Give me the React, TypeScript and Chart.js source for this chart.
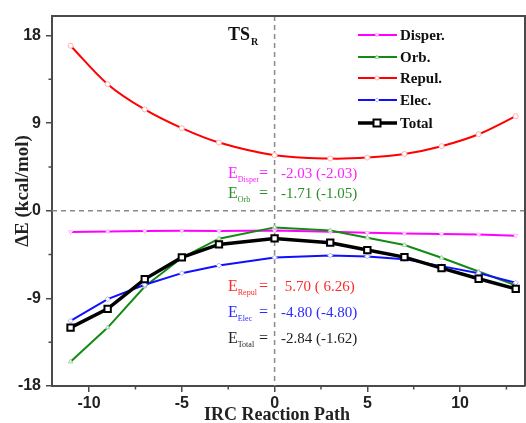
import React, { useEffect, useRef } from "react";
import { Chart, registerables } from "chart.js";

Chart.register(...registerables);

const xValues = [-11, -9, -7, -5, -3, 0, 3, 5, 7, 9, 11, 13];
const disper = [-2.19, -2.12, -2.09, -2.05, -2.09, -2.03, -2.15, -2.26, -2.33, -2.4, -2.43, -2.56];
const orb = [-15.5, -12.0, -7.78, -4.83, -2.87, -1.71, -2.02, -2.77, -3.52, -4.83, -6.24, -7.67];
const repul = [16.95, 13.0, 10.4, 8.48, 7.0, 5.7, 5.36, 5.46, 5.83, 6.63, 7.86, 9.71];
const elec = [-11.3, -9.08, -7.6, -6.41, -5.62, -4.8, -4.59, -4.69, -4.97, -5.69, -6.41, -7.4];
const total = [-12.0, -10.08, -7.02, -4.79, -3.46, -2.84, -3.28, -4.04, -4.76, -5.89, -6.99, -8.02];

const seriesNames = ["Disper.", "Orb.", "Repul.", "Elec.", "Total"];
const seriesColors = ["#ff00ff", "#138a13", "#ff0000", "#1010ff", "#000000"];
const markerEdges = ["#ffb3ff", "#9fd09f", "#ffb0b0", "#b0b0ff", "#000000"];

const annoMain = ["Disper", "Orb", "Repul", "Elec", "Total"];
const annoValues = ["-2.03 (-2.03)", "-1.71 (-1.05)", " 5.70 ( 6.26)", "-4.80 (-4.80)", "-2.84 (-1.62)"];
const annoColors = ["#ff22ff", "#2a8f2a", "#ff2a2a", "#2a2aff", "#222222"];

const yTickValues = [-18, -9, 0, 9, 18];
const yMinorTicks = [-13.5, -4.5, 4.5, 13.5];
const xMinorTicks = [-7.5, -2.5, 2.5, 7.5, 12.5];

const xTitle = "IRC Reaction Path";
const yTitle = "ΔE (kcal/mol)";

const SERIF = "'Liberation Serif', 'Times New Roman', serif";
const SANS = "'Liberation Sans', Arial, sans-serif";

const drawMarker = (ctx: CanvasRenderingContext2D, style: string, x: number, y: number, r: number) => {
  ctx.beginPath();
  if (style === "circle") {
    ctx.arc(x, y, r, 0, Math.PI * 2);
  } else if (style === "triangle") {
    ctx.moveTo(x, y - r);
    ctx.lineTo(x + r, y + r * 0.8);
    ctx.lineTo(x - r, y + r * 0.8);
    ctx.closePath();
  } else if (style === "triangleDown") {
    ctx.moveTo(x, y + r);
    ctx.lineTo(x + r, y - r * 0.8);
    ctx.lineTo(x - r, y - r * 0.8);
    ctx.closePath();
  } else if (style === "rectRot") {
    ctx.moveTo(x, y - r);
    ctx.lineTo(x + r, y);
    ctx.lineTo(x, y + r);
    ctx.lineTo(x - r, y);
    ctx.closePath();
  } else {
    ctx.rect(x - r, y - r, 2 * r, 2 * r);
  }
  ctx.fill();
  ctx.stroke();
};

const markerStyles = ["triangleDown", "triangle", "circle", "rectRot", "rect"];

const decorPlugin = {
  id: "decor",
  beforeDatasetsDraw(chart: any) {
    const { ctx, chartArea, scales } = chart;
    const x0 = scales.x.getPixelForValue(0);
    const y0 = scales.y.getPixelForValue(0);
    ctx.save();
    ctx.strokeStyle = "#8a8a8a";
    ctx.lineWidth = 1.5;
    ctx.setLineDash([5, 4]);
    ctx.beginPath();
    ctx.moveTo(x0, chartArea.top);
    ctx.lineTo(x0, chartArea.bottom);
    ctx.moveTo(chartArea.left, y0);
    ctx.lineTo(chartArea.right, y0);
    ctx.stroke();
    ctx.restore();
  },
  afterDraw(chart: any) {
    const { ctx, chartArea, scales } = chart;
    ctx.save();
    // frame
    ctx.strokeStyle = "#4a4a4a";
    ctx.lineWidth = 2;
    ctx.beginPath();
    ctx.moveTo(chartArea.left, chartArea.top);
    ctx.lineTo(chartArea.right, chartArea.top);
    ctx.lineTo(chartArea.right, chartArea.bottom);
    ctx.stroke();
    // minor ticks
    ctx.lineWidth = 1.5;
    ctx.beginPath();
    yMinorTicks.forEach((v) => {
      const y = scales.y.getPixelForValue(v);
      ctx.moveTo(chartArea.left, y);
      ctx.lineTo(chartArea.left - 3.5, y);
    });
    xMinorTicks.forEach((v) => {
      const x = scales.x.getPixelForValue(v);
      if (x > chartArea.right) return;
      ctx.moveTo(x, chartArea.bottom);
      ctx.lineTo(x, chartArea.bottom + 3.5);
    });
    ctx.stroke();

    // TS_R
    ctx.fillStyle = "#111";
    ctx.textBaseline = "alphabetic";
    ctx.textAlign = "left";
    ctx.font = `bold 18px ${SERIF}`;
    ctx.fillText("TS", 228, 40);
    const tsw = ctx.measureText("TS").width;
    ctx.font = `bold 10px ${SERIF}`;
    ctx.fillText("R", 228 + tsw + 1, 45);

    // annotations
    const annoY = [178, 198, 291, 317, 343];
    annoMain.forEach((sub, i) => {
      ctx.fillStyle = annoColors[i];
      ctx.font = `16px ${SERIF}`;
      ctx.fillText("E", 228, annoY[i]);
      const ew = ctx.measureText("E").width;
      ctx.font = `8px ${SERIF}`;
      ctx.fillText(sub, 228 + ew, annoY[i] + 4);
      ctx.font = `16px ${SERIF}`;
      ctx.fillText("=", 259, annoY[i]);
      ctx.font = `15px ${SERIF}`;
      ctx.fillText(annoValues[i], 281, annoY[i]);
    });

    // legend
    const legY = [35, 57, 78, 100, 123];
    seriesNames.forEach((name, i) => {
      const isTotal = i === 4;
      ctx.strokeStyle = seriesColors[i];
      ctx.lineWidth = isTotal ? 3.5 : 2;
      ctx.beginPath();
      ctx.moveTo(358, legY[i]);
      ctx.lineTo(397, legY[i]);
      ctx.stroke();
      ctx.fillStyle = "#ffffff";
      ctx.lineWidth = isTotal ? 2 : 1;
      ctx.strokeStyle = markerEdges[i];
      drawMarker(ctx, markerStyles[i], 377, legY[i], isTotal ? 3.5 : 2);
      ctx.fillStyle = "#111";
      ctx.font = `bold 15px ${SERIF}`;
      ctx.fillText(name, 400, legY[i] + 5);
    });

    // axis titles
    ctx.fillStyle = "#222";
    ctx.font = `bold 18px ${SERIF}`;
    ctx.textAlign = "center";
    ctx.fillText(xTitle, 277, 420);
    ctx.save();
    ctx.translate(28, 191);
    ctx.rotate(-Math.PI / 2);
    ctx.font = `bold 19px ${SERIF}`;
    ctx.fillText(yTitle, 0, 0);
    ctx.restore();

    ctx.restore();
  },
};

export default function App() {
  const canvasRef = useRef<HTMLCanvasElement | null>(null);

  useEffect(() => {
    if (!canvasRef.current) return;
    const all = [disper, orb, repul, elec, total];
    const datasets = all.map((vals, i) => {
      const isTotal = i === 4;
      return {
        label: seriesNames[i],
        data: xValues.map((x, j) => ({ x, y: vals[j] })),
        borderColor: seriesColors[i],
        backgroundColor: "#ffffff",
        borderWidth: isTotal ? 3.5 : 2,
        pointStyle: isTotal ? "rect" : i === 2 ? "circle" : i === 3 ? "rectRot" : "triangle",
        pointRotation: i === 0 ? 180 : 0,
        pointRadius: isTotal ? 4.5 : 2.5,
        pointBorderWidth: isTotal ? 2 : 1,
        pointBorderColor: markerEdges[i],
        pointBackgroundColor: "#ffffff",
        tension: i === 2 ? 0.35 : 0,
        order: 4 - i,
      };
    });

    const chart = new Chart(canvasRef.current, {
      type: "line",
      data: { datasets: datasets as any },
      options: {
        animation: false,
        responsive: false,
        devicePixelRatio: 1,
        layout: { autoPadding: false, padding: { top: 16, right: 1, left: 0, bottom: 0 } },
        plugins: {
          legend: { display: false },
          tooltip: { enabled: false },
        },
        scales: {
          x: {
            type: "linear",
            min: -12,
            max: 13.5,
            afterFit: (s: any) => {
              s.height = 37;
              s.paddingLeft = 0;
              s.paddingRight = 0;
            },
            ticks: {
              stepSize: 5,
              includeBounds: false,
              padding: 2,
              color: "#222",
              font: { family: SANS, size: 16, weight: "bold" },
            },
            grid: { drawOnChartArea: false, drawTicks: true, tickLength: 6, color: "#4a4a4a", lineWidth: 1.5 },
            border: { display: true, color: "#4a4a4a", width: 2 },
          },
          y: {
            type: "linear",
            min: -18,
            max: 20,
            afterFit: (s: any) => {
              s.width = 52;
              s.paddingTop = 0;
              s.paddingBottom = 0;
            },
            afterBuildTicks: (s: any) => {
              s.ticks = yTickValues.map((v) => ({ value: v }));
            },
            ticks: {
              padding: 5,
              color: "#222",
              font: { family: SANS, size: 16, weight: "bold" },
            },
            grid: { drawOnChartArea: false, drawTicks: true, tickLength: 6, color: "#4a4a4a", lineWidth: 1.5 },
            border: { display: true, color: "#4a4a4a", width: 2 },
          },
        },
      },
      plugins: [decorPlugin],
    } as any);
    return () => chart.destroy();
  }, []);

  return (
    <div style={{ position: "fixed", left: 0, top: 0, width: 526, height: 423, background: "#fff" }}>
      <canvas ref={canvasRef} width={526} height={423} style={{ width: 526, height: 423, display: "block" }} />
    </div>
  );
}
